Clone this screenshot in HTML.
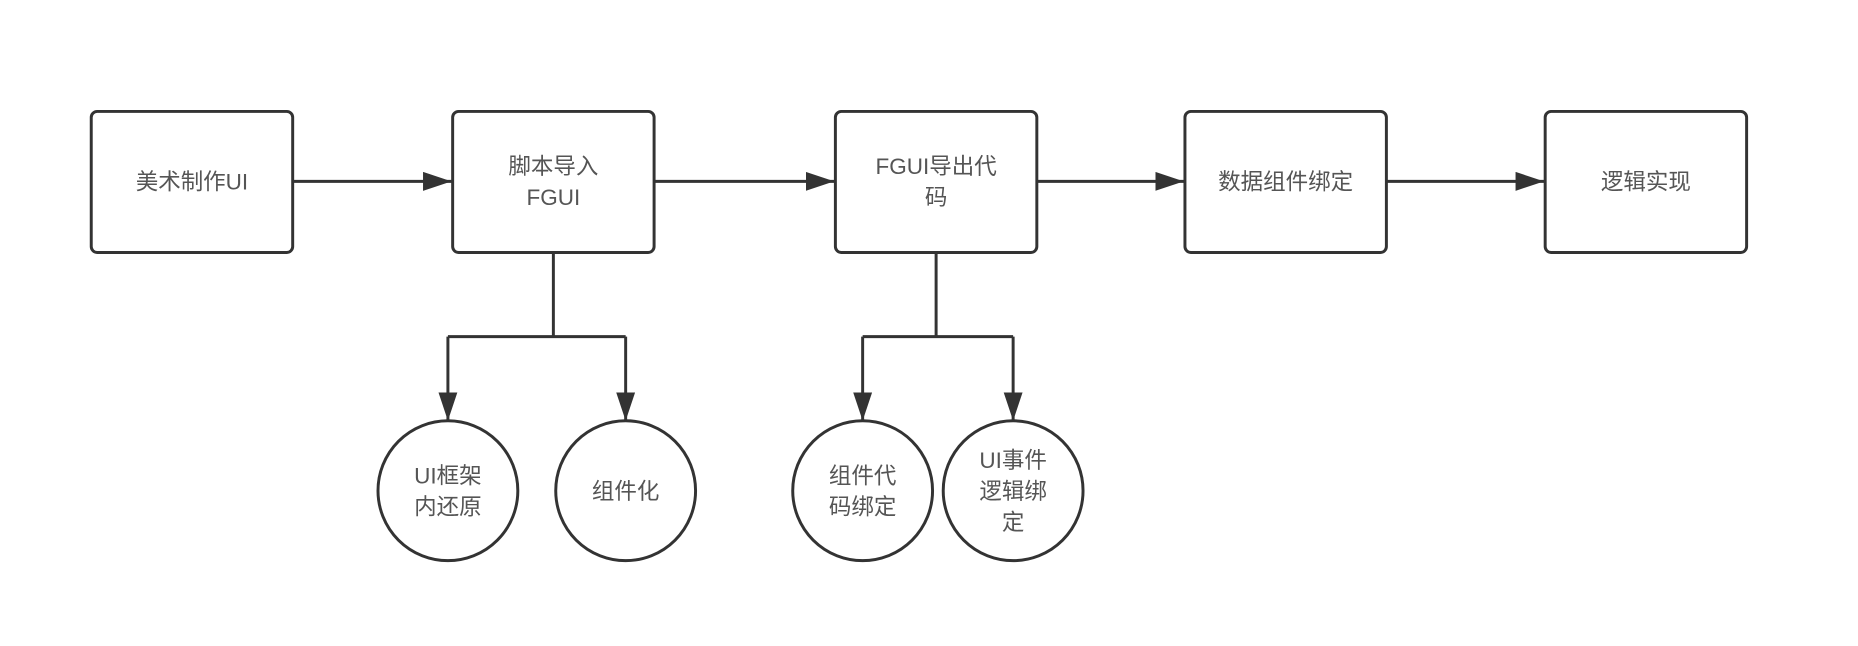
<!DOCTYPE html>
<html><head><meta charset="utf-8"><style>
html,body{margin:0;padding:0;background:#fff;}
svg{display:block;}
text{font-family:"Liberation Sans","Noto Sans CJK SC",sans-serif;font-size:19px;fill:#555;text-anchor:middle;}
</style></head><body>
<svg width="1858" height="646" viewBox="0 0 1568 545" preserveAspectRatio="none">
<defs><marker id="a" markerWidth="10" markerHeight="10" refX="9" refY="5" orient="auto" markerUnits="userSpaceOnUse" viewBox="0 0 10 10"><path d="M0,0 L10,5 L0,10z" fill="#333"/></marker>
<marker id="b" markerWidth="24" markerHeight="16" refX="24" refY="8" orient="auto" markerUnits="userSpaceOnUse"><path d="M0,0 L24,8 L0,16z" fill="#333"/></marker></defs>
<g fill="#fff" stroke="#333" stroke-width="2.5">
<rect x="77" y="94" width="170" height="119" rx="5"/>
<rect x="382" y="94" width="170" height="119" rx="5"/>
<rect x="705" y="94" width="170" height="119" rx="5"/>
<rect x="1000" y="94" width="170" height="119" rx="5"/>
<rect x="1304" y="94" width="170" height="119" rx="5"/>
<circle cx="378" cy="414" r="59"/>
<circle cx="528" cy="414" r="59"/>
<circle cx="728" cy="414" r="59"/>
<circle cx="855" cy="414" r="59"/>
</g>
<g fill="none" stroke="#333" stroke-width="2.5">
<path d="M247,153 H381" marker-end="url(#b)"/>
<path d="M552,153 H704" marker-end="url(#b)"/>
<path d="M875,153 H999" marker-end="url(#b)"/>
<path d="M1170,153 H1303" marker-end="url(#b)"/>
<path d="M467,213 V284 M378,284 H528"/>
<path d="M378,284 V355" marker-end="url(#b)"/>
<path d="M528,284 V355" marker-end="url(#b)"/>
<path d="M790,213 V284 M728,284 H855"/>
<path d="M728,284 V355" marker-end="url(#b)"/>
<path d="M855,284 V355" marker-end="url(#b)"/>
</g>
<text x="162" y="160">美术制作UI</text>
<text x="467" y="147">脚本导入</text>
<text x="467" y="173">FGUI</text>
<text x="790" y="147">FGUI导出代</text>
<text x="790" y="173">码</text>
<text x="1085" y="160">数据组件绑定</text>
<text x="1389" y="160">逻辑实现</text>
<text x="378" y="408">UI框架</text>
<text x="378" y="434">内还原</text>
<text x="528" y="421">组件化</text>
<text x="728" y="408">组件代</text>
<text x="728" y="434">码绑定</text>
<text x="855" y="395">UI事件</text>
<text x="855" y="421">逻辑绑</text>
<text x="855" y="447">定</text>
</svg>
</body></html>
